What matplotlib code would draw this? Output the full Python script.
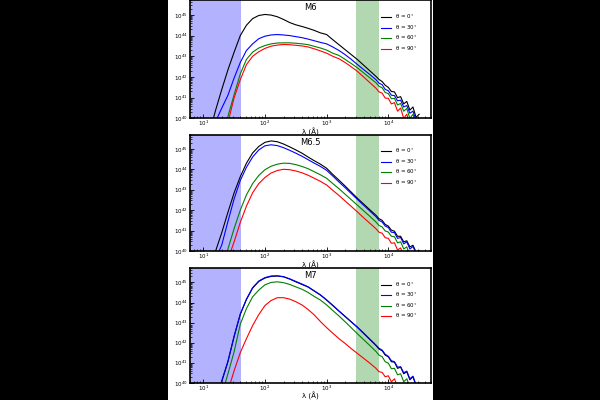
import numpy as np
import matplotlib.pyplot as plt
from matplotlib.patches import Rectangle

# log10 wavelength grid (Angstrom) the curves were read at
log_wave = [1.1, 1.2, 1.3, 1.4, 1.5, 1.6, 1.7, 1.8, 1.9, 2.0,
            2.1, 2.2, 2.3, 2.4, 2.5, 2.6, 2.7, 2.8, 2.9, 3.0,
            3.1, 3.2, 3.3, 3.4, 3.5, 3.6, 3.7,
            3.8, 3.85, 3.9, 3.95, 4.0, 4.05, 4.1, 4.15, 4.2, 4.25,
            4.3, 4.35, 4.4, 4.45, 4.5]

# log10 lambda*L_lambda (erg/s), one list per viewing angle
m6_0 = [39.3, 40.4, 41.4, 42.35, 43.2, 44.0, 44.5, 44.82, 44.97, 45.02,
        44.99, 44.91, 44.78, 44.63, 44.52, 44.44, 44.35, 44.25, 44.13, 44.05,
        43.8, 43.56, 43.32, 43.08, 42.84, 42.57, 42.3,
        42.03, 41.88, 41.78, 41.6, 41.5, 41.3, 41.28, 41.0, 41.05, 40.7,
        40.82, 40.4, 40.55, 40.05, 40.2]
m6_30 = [39.0, 39.85, 40.5, 41.12, 41.95, 42.7, 43.28, 43.6, 43.85, 43.97,
         44.03, 44.05, 44.03, 44.0, 43.95, 43.9, 43.83, 43.75, 43.67, 43.6,
         43.45, 43.28, 43.08, 42.85, 42.6, 42.36, 42.12,
         41.87, 41.7, 41.63, 41.4, 41.34, 41.12, 41.1, 40.85, 40.88, 40.55,
         40.62, 40.25, 40.35, 39.9, 40.0]
m6_60 = [37.0, 38.0, 39.0, 40.1, 41.15, 42.15, 42.85, 43.2, 43.4, 43.52,
         43.6, 43.64, 43.65, 43.65, 43.63, 43.6, 43.56, 43.48, 43.4, 43.3,
         43.15, 43.04, 42.85, 42.65, 42.44, 42.2, 41.96,
         41.72, 41.55, 41.48, 41.25, 41.2, 40.95, 40.97, 40.65, 40.72, 40.35,
         40.48, 40.0, 40.2, 39.7, 39.8]
m6_90 = [37.0, 38.0, 38.8, 39.8, 41.0, 41.87, 42.6, 43.0, 43.22, 43.38,
         43.49, 43.54, 43.57, 43.56, 43.53, 43.5, 43.45, 43.36, 43.26, 43.15,
         43.0, 42.88, 42.7, 42.49, 42.27, 42.0, 41.73,
         41.46, 41.28, 41.22, 40.98, 40.97, 40.7, 40.76, 40.35, 40.5, 40.0,
         40.2, 39.7, 39.9, 39.4, 39.5]

m65_0 = [39.1, 40.0, 40.9, 41.9, 42.85, 43.64, 44.3, 44.8, 45.12, 45.32,
         45.39, 45.35, 45.24, 45.1, 44.95, 44.79, 44.6, 44.42, 44.25, 44.05,
         43.75, 43.47, 43.18, 42.88, 42.58, 42.3, 42.02,
         41.75, 41.58, 41.5, 41.3, 41.22, 41.02, 40.97, 40.72, 40.72, 40.45,
         40.5, 40.2, 40.28, 39.95, 40.02]
m65_30 = [38.8, 39.6, 40.3, 41.45, 42.55, 43.45, 44.1, 44.6, 44.95, 45.15,
          45.2, 45.16, 45.06, 44.93, 44.79, 44.64, 44.47, 44.3, 44.14, 43.95,
          43.67, 43.38, 43.1, 42.81, 42.52, 42.24, 41.96,
          41.68, 41.5, 41.42, 41.22, 41.15, 40.92, 40.9, 40.62, 40.66, 40.35,
          40.45, 40.1, 40.22, 39.9, 40.0]
m65_60 = [37.5, 38.3, 39.2, 40.1, 41.1, 42.0, 42.75, 43.3, 43.7, 43.98,
          44.15, 44.25, 44.3, 44.29, 44.23, 44.14, 44.03, 43.88, 43.73, 43.56,
          43.3, 43.05, 42.78, 42.51, 42.24, 41.97, 41.7,
          41.42, 41.25, 41.18, 40.98, 40.93, 40.72, 40.7, 40.4, 40.45, 40.1,
          40.2, 39.8, 39.9, 39.5, 39.5]
m65_90 = [37.0, 38.0, 38.9, 39.6, 40.45, 41.4, 42.2, 42.85, 43.3, 43.6,
          43.82, 43.94, 44.0, 43.98, 43.92, 43.83, 43.71, 43.56, 43.41, 43.23,
          42.97, 42.72, 42.45, 42.18, 41.91, 41.63, 41.36,
          41.09, 40.92, 40.87, 40.65, 40.62, 40.38, 40.4, 40.05, 40.15, 39.75,
          39.85, 39.5, 39.5, 39.2, 39.2]

m7_0 = [38.0, 39.0, 40.07, 41.05, 42.3, 43.41, 44.15, 44.72, 45.05, 45.22,
        45.3, 45.32, 45.28, 45.17, 45.03, 44.9, 44.77, 44.57, 44.37, 44.12,
        43.85, 43.57, 43.3, 43.03, 42.76, 42.46, 42.16,
        41.86, 41.68, 41.6, 41.38, 41.3, 41.05, 41.03, 40.72, 40.78, 40.45,
        40.55, 40.15, 40.3, 39.85, 39.95]
m7_30 = [38.1, 39.1, 40.1, 41.08, 42.33, 43.43, 44.17, 44.74, 45.07, 45.24,
         45.32, 45.33, 45.29, 45.18, 45.05, 44.92, 44.78, 44.58, 44.38, 44.13,
         43.86, 43.58, 43.31, 43.04, 42.77, 42.48, 42.18,
         41.88, 41.72, 41.63, 41.42, 41.32, 41.1, 41.05, 40.78, 40.8, 40.5,
         40.58, 40.2, 40.33, 39.9, 40.0]
m7_60 = [37.5, 38.5, 39.4, 40.45, 41.55, 42.92, 43.7, 44.28, 44.62, 44.88,
         45.0, 45.03, 44.99, 44.9, 44.78, 44.66, 44.5, 44.3, 44.12, 43.88,
         43.6, 43.33, 43.04, 42.74, 42.44, 42.15, 41.86,
         41.56, 41.38, 41.3, 41.05, 40.98, 40.7, 40.72, 40.4, 40.45, 40.05,
         40.2, 39.8, 39.95, 39.6, 39.6]
m7_90 = [37.0, 38.0, 39.0, 39.6, 40.6, 41.5, 42.2, 42.85, 43.4, 43.85,
         44.1, 44.24, 44.24, 44.17, 44.04, 43.88, 43.65, 43.38, 43.05, 42.75,
         42.47, 42.2, 41.96, 41.7, 41.46, 41.22, 40.98,
         40.72, 40.55, 40.52, 40.3, 40.35, 40.05, 40.2, 39.8, 39.9, 39.5,
         39.6, 39.2, 39.3, 39.0, 39.0]

titles = ["M6", "M6.5", "M7"]
curves = [[m6_0, m6_30, m6_60, m6_90],
          [m65_0, m65_30, m65_60, m65_90],
          [m7_0, m7_30, m7_60, m7_90]]
angles = [0, 30, 60, 90]
colors = ["black", "blue", "green", "red"]

xray_band = (6, 41.3)
optical_band = (3000, 7000)

wave = 10 ** np.array(log_wave)

fig = plt.figure(figsize=(6, 4), dpi=100, facecolor="black")
fig.add_artist(Rectangle((0.28, 0), 0.442, 1, transform=fig.transFigure,
                         facecolor="white", edgecolor="none", zorder=-1))

bottoms = [0.704, 0.3725, 0.043]
heights = [0.295, 0.291, 0.286]

for i in range(3):
    ax = fig.add_axes([0.316, bottoms[i], 0.403, heights[i]])
    ax.axvspan(*xray_band, color="blue", alpha=0.3, lw=0)
    ax.axvspan(*optical_band, color="green", alpha=0.3, lw=0)
    for vals, ang, c in zip(curves[i], angles, colors):
        ax.plot(wave, 10 ** np.array(vals), color=c, lw=0.8,
                label="θ = %d$^{\\circ}$" % ang)
    ax.set_xscale("log")
    ax.set_yscale("log")
    ax.set_xlim(6, 5e4)
    ax.set_ylim(1e40, 5e45)
    ax.tick_params(which="both", direction="in", labelsize=4)
    ax.tick_params(axis="x", pad=0.5)
    ax.tick_params(axis="y", pad=1.5)
    ax.tick_params(which="major", length=3, width=0.6)
    ax.tick_params(which="minor", length=1.5, width=0.5)
    for s in ax.spines.values():
        s.set_linewidth(1.2)
    ax.set_xlabel("λ (Å)", fontsize=5, labelpad=-0.5)
    ax.set_ylabel(r"$\lambda$L$_{\lambda}$ (erg s$^{-1}$)", fontsize=5, labelpad=2)
    ax.text(0.5, 0.975, titles[i], transform=ax.transAxes,
            ha="center", va="top", fontsize=6)
    ax.legend(loc="upper right", bbox_to_anchor=(0.95, 0.92), borderaxespad=0,
              frameon=False, fontsize=4, handlelength=1.8, labelspacing=0.3,
              handletextpad=0.7)

plt.savefig("out.png", dpi=100, facecolor=fig.get_facecolor())
